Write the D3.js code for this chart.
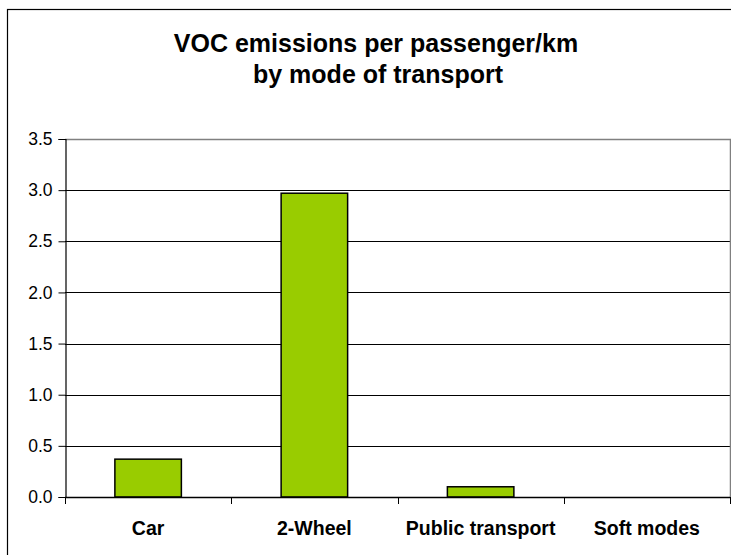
<!DOCTYPE html>
<html>
<head>
<meta charset="utf-8">
<script src="https://cdn.jsdelivr.net/npm/d3@7"></script>
<style>
  body { margin: 0; background: #fff; }
  text { font-family: "Liberation Sans", Arial, sans-serif; }
</style>
</head>
<body>
<div id="chart"></div>
<script>
const categories = ['Car', '2-Wheel', 'Public transport', 'Soft modes'];
const values = [0.37, 2.97, 0.10, 0];
const yTicks = [0, 0.5, 1.0, 1.5, 2.0, 2.5, 3.0, 3.5];

const width = 731;
const height = 555;
const margin = { top: 139, right: 1, bottom: 58, left: 65 };

const svg = d3.select('#chart')
  .append('svg')
  .attr('width', width)
  .attr('height', height);

// outer chart frame (runs off the right/bottom of the picture)
svg.append('rect')
  .attr('x', 7.5)
  .attr('y', 9.5)
  .attr('width', 760)
  .attr('height', 600)
  .attr('fill', 'none')
  .attr('stroke', '#000')
  .attr('stroke-width', 1.2);

const x = d3.scaleBand()
  .domain(categories)
  .range([margin.left, width - margin.right])
  .paddingInner(0.6)
  .paddingOuter(0.3);

const y = d3.scaleLinear()
  .domain([0, 3.5])
  .range([height - margin.bottom, margin.top]);

// title
const title = svg.append('text')
  .attr('text-anchor', 'middle')
  .style('font-size', '25px')
  .style('font-weight', 'bold');
title.append('tspan').attr('x', 376).attr('y', 52).text('VOC emissions per passenger/km');
title.append('tspan').attr('x', 378).attr('y', 83).text('by mode of transport');

// gridlines
svg.append('g')
  .selectAll('line')
  .data(yTicks.slice(1, -1))
  .join('line')
  .attr('x1', margin.left)
  .attr('x2', width - margin.right)
  .attr('y1', d => Math.round(y(d)) + 0.5)
  .attr('y2', d => Math.round(y(d)) + 0.5)
  .attr('stroke', '#000')
  .attr('stroke-width', 1);

// plot area top / right border
svg.append('path')
  .attr('d', `M${margin.left},${Math.round(y(3.5)) + 0.5}H${width - margin.right + 0.5}V${y(0)}`)
  .attr('fill', 'none')
  .attr('stroke', '#808080')
  .attr('stroke-width', 1.5);

// bars
svg.append('g')
  .selectAll('rect')
  .data(values)
  .join('rect')
  .attr('x', (d, i) => x(categories[i]))
  .attr('y', d => y(d))
  .attr('width', x.bandwidth())
  .attr('height', d => y(0) - y(d))
  .attr('fill', '#99cc00')
  .attr('stroke', '#000')
  .attr('stroke-width', 1.5)
  .style('display', d => d > 0 ? null : 'none');

// y axis
const yAxis = svg.append('g')
  .attr('transform', `translate(${margin.left + 0.5},0)`)
  .call(d3.axisLeft(y).tickValues(yTicks).tickFormat(d3.format('.1f')).tickSize(7).tickPadding(6));
yAxis.select('.domain').attr('stroke', '#000').attr('stroke-width', 1.2);
yAxis.selectAll('.tick line').attr('stroke', '#000');
yAxis.selectAll('.tick text')
  .attr('fill', '#000')
  .style('font-size', '17.5px')
  .style('font-family', '"Liberation Sans", Arial, sans-serif');

// x axis with ticks on band boundaries
const gap = (x.step() - x.bandwidth()) / 2;
const bounds = categories.map(c => x(c) - gap).concat([x(categories[categories.length - 1]) + x.bandwidth() + gap]);
const xg = svg.append('g');
xg.append('line')
  .attr('x1', margin.left)
  .attr('x2', width - margin.right)
  .attr('y1', Math.round(y(0)) + 0.5)
  .attr('y2', Math.round(y(0)) + 0.5)
  .attr('stroke', '#000')
  .attr('stroke-width', 1.5);
xg.selectAll('.btick')
  .data(bounds)
  .join('line')
  .attr('class', 'btick')
  .attr('x1', d => Math.round(d) + 0.5)
  .attr('x2', d => Math.round(d) + 0.5)
  .attr('y1', y(0))
  .attr('y2', y(0) + 7)
  .attr('stroke', '#000');
xg.selectAll('.clabel')
  .data(categories)
  .join('text')
  .attr('class', 'clabel')
  .attr('x', d => x(d) + x.bandwidth() / 2)
  .attr('y', 535)
  .attr('text-anchor', 'middle')
  .style('font-size', '19.5px')
  .style('font-weight', 'bold')
  .text(d => d);
</script>
</body>
</html>
